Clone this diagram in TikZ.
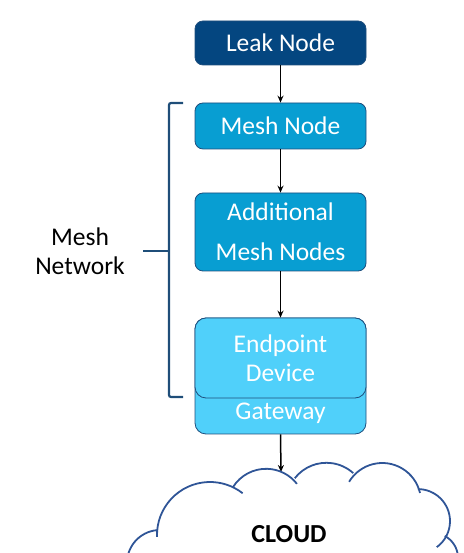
\documentclass[tikz,border=0pt]{standalone}
\usepackage{fontspec}
\setmainfont{Carlito}
\usetikzlibrary{arrows.meta}
\definecolor{leakblue}{RGB}{4,70,128}
\definecolor{meshblue}{RGB}{8,158,210}
\definecolor{lightblue}{RGB}{80,208,250}
\definecolor{edgeblue}{RGB}{30,78,125}
\definecolor{braceblue}{RGB}{31,78,121}
\definecolor{cloudblue}{RGB}{47,85,151}
\tikzset{
  box/.style={draw=edgeblue, line width=0.8pt, rounded corners=8pt, text=white,
    minimum width=171pt, align=center, font=\fontsize{25.5}{29}\selectfont},
  arr/.style={-{Stealth[length=7pt,width=6pt]}, line width=1.5pt},
  cloudline/.style={draw=cloudblue, line width=1.8pt}
}
\begin{document}
\begin{tikzpicture}[x=1pt,y=1pt]
\useasboundingbox (0,0) rectangle (463,553);

\node[box, fill=leakblue, minimum height=44pt] (leak) at (280.5,510) {Leak Node};
\node[box, fill=meshblue, minimum height=46pt] (mesh) at (280.5,427) {Mesh Node};
\node[box, fill=meshblue, minimum height=78pt,
  font=\fontsize{25.5}{40}\selectfont] (addl) at (280.5,321) {Additional\\Mesh Nodes};
\node[box, fill=lightblue, rounded corners=11pt, inner ysep=0pt,
  text height=102pt, text depth=14pt] (gateway) at (280.5,177) {Gateway};
\node[box, fill=lightblue, rounded corners=11pt, minimum height=80pt] (endpoint) at (280.5,195) {Endpoint\\Device};

\coordinate (cloudtop) at (281,81);

\draw[arr] (leak) -- (mesh);
\draw[arr] (mesh) -- (addl);
\draw[arr] (addl) -- (endpoint);
\draw[arr] (gateway.south) -- (cloudtop);

% bracket round the mesh
\draw[braceblue, line width=2.2pt, rounded corners=2pt] (183,450) -- (169,450) -- (169,156) -- (183,156);
\draw[braceblue, line width=2.2pt] (169,302) -- (143,302);
\node[font=\fontsize{25.5}{29}\selectfont, align=center] (meshnet) at (80,302) {Mesh\\Network};

% cloud, cut off at the bottom
\begin{scope}
\clip (0,0) rectangle (463,553);
\draw[cloudline] (160,-10) ++(185:33) arc (185:95:33);
\draw[cloudline] (210,18) ++(182:53) arc (182:52:53);
\draw[cloudline] (266.1,45.1) ++(148:39.1) arc (148:38:39.1);
\draw[cloudline] (326.4,50.1) ++(142:40.1) arc (142:48:40.1);
\draw[cloudline] (382.3,51.3) ++(149:38.7) arc (149:13:38.7);
\draw[cloudline] (417.9,31.8) ++(90:32.1) arc (90:-54:32.1);
\draw[cloudline] (433,-5) ++(62:25) arc (62:-30:25);
\end{scope}
\node[font=\fontsize{26}{29}\selectfont\bfseries] (cloud) at (289,19) {CLOUD};
\end{tikzpicture}
\end{document}
